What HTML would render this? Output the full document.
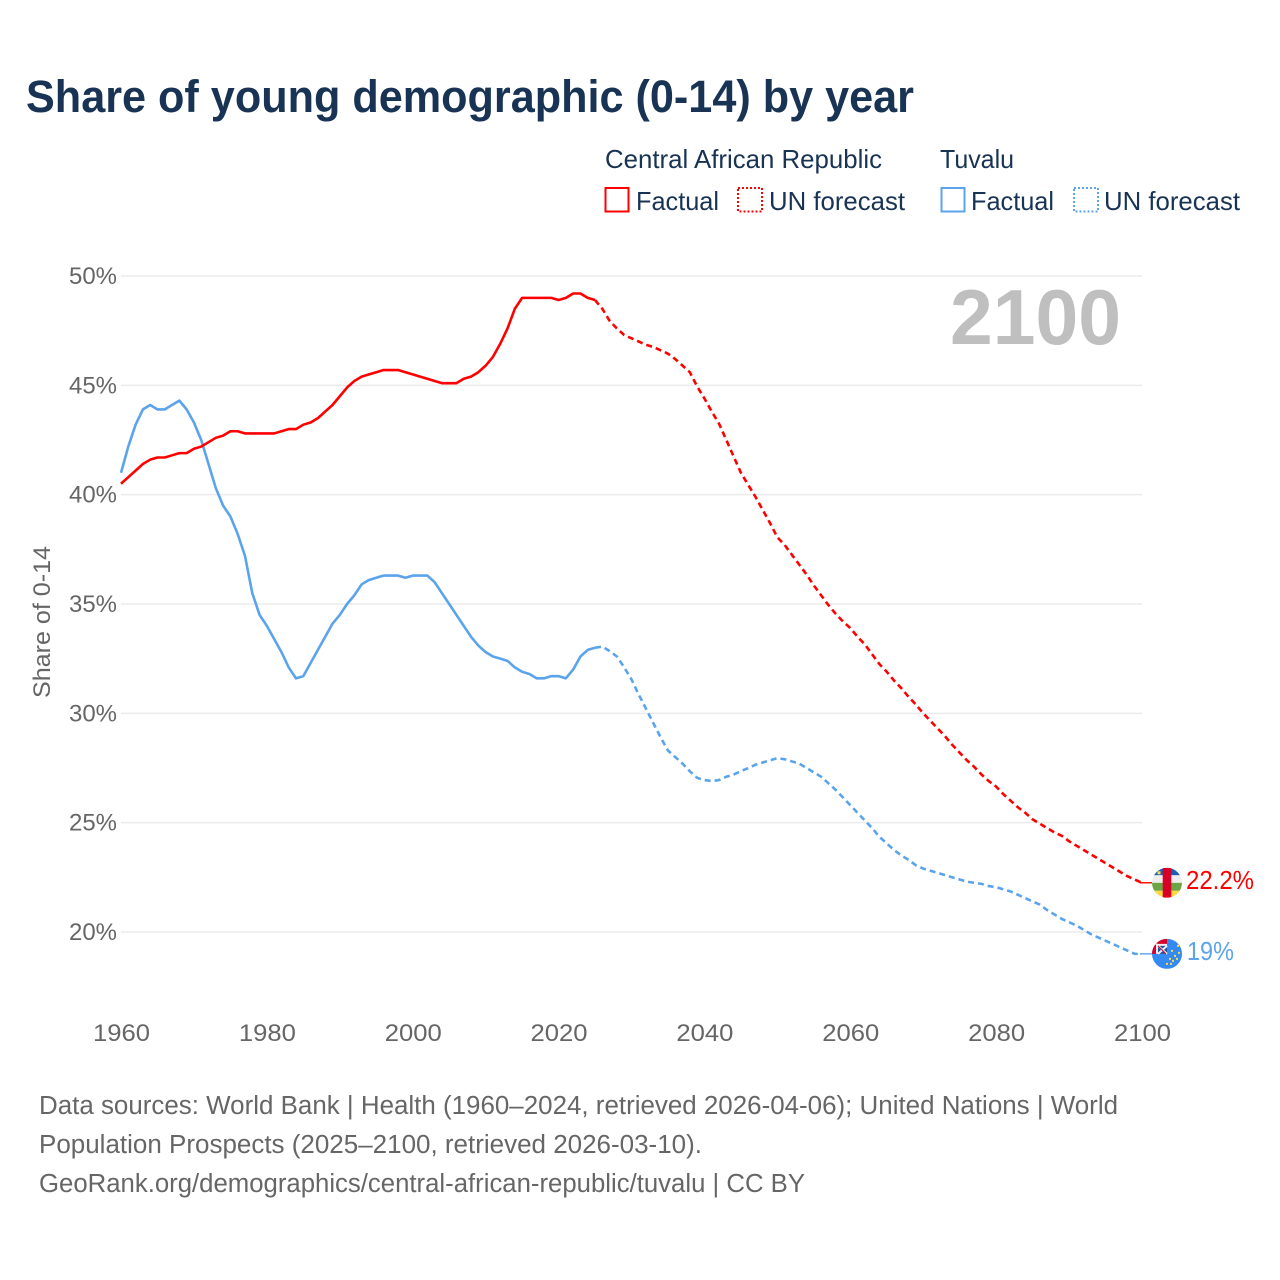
<!DOCTYPE html>
<html lang="en">
<head>
<meta charset="utf-8">
<title>Share of young demographic (0-14) by year</title>
<style>
html,body{margin:0;padding:0;background:#fff;width:1280px;height:1280px;overflow:hidden}
svg{display:block;font-family:"Liberation Sans",sans-serif}
</style>
</head>
<body>
<svg id="chart" xmlns="http://www.w3.org/2000/svg" width="1280" height="1280" viewBox="0 0 1280 1280">
  <defs>
    <clipPath id="clip-car"><circle cx="0" cy="0" r="15"/></clipPath>
    <clipPath id="clip-tuv"><circle cx="0" cy="0" r="15"/></clipPath>
  </defs>
  <rect width="1280" height="1280" fill="#fff"/>
  <text x="26" y="112" font-size="45" font-weight="700" fill="#183354" textLength="888" lengthAdjust="spacingAndGlyphs">Share of young demographic (0-14) by year</text>

  <g font-size="26" fill="#183354">
    <text x="605" y="168" textLength="277" lengthAdjust="spacingAndGlyphs">Central African Republic</text>
    <text x="940" y="168" textLength="74" lengthAdjust="spacingAndGlyphs">Tuvalu</text>
    <rect x="605.5" y="188" width="23" height="23.5" fill="none" stroke="#ff0000" stroke-width="2"/>
    <text x="636" y="210" textLength="83" lengthAdjust="spacingAndGlyphs">Factual</text>
    <rect x="738" y="188" width="24" height="23.5" fill="none" stroke="#ff0000" stroke-width="2" stroke-dasharray="2 2"/>
    <text x="769" y="210" textLength="136" lengthAdjust="spacingAndGlyphs">UN forecast</text>
    <rect x="941.5" y="188" width="23" height="23.5" fill="none" stroke="#5ba4ec" stroke-width="2"/>
    <text x="971" y="210" textLength="83" lengthAdjust="spacingAndGlyphs">Factual</text>
    <rect x="1074" y="188" width="24" height="23.5" fill="none" stroke="#5ba4ec" stroke-width="2" stroke-dasharray="2 2"/>
    <text x="1104" y="210" textLength="136" lengthAdjust="spacingAndGlyphs">UN forecast</text>
  </g>

  <g id="grid"></g>
  <g id="yticks"></g>
  <g id="xticks"></g>

  <text x="950" y="344" font-size="78" font-weight="700" fill="#bfbfbf" textLength="171" lengthAdjust="spacingAndGlyphs">2100</text>
  <text transform="translate(50,698) rotate(-90)" font-size="24" fill="#666" textLength="152" lengthAdjust="spacingAndGlyphs">Share of 0-14</text>

  <g id="series"></g>

  <g id="flag-car" clip-path="url(#clip-car)">
    <rect x="-15" y="-15" width="30" height="7.5" fill="#1a5fb4"/>
    <rect x="-15" y="-7.5" width="30" height="7.5" fill="#eeeeee"/>
    <rect x="-15" y="0" width="30" height="8" fill="#6da544"/>
    <rect x="-15" y="8" width="30" height="7" fill="#ffda44"/>
    <rect x="-4.3" y="-15" width="8.6" height="30" fill="#d80027"/>
    <rect x="-9.5" y="-11.5" width="3" height="3" fill="#ffda44"/>
  </g>
  <g id="flag-tuv" clip-path="url(#clip-tuv)">
    <rect x="-15" y="-15" width="30" height="30" fill="#338af3"/>
    <rect x="-15" y="-15" width="15" height="15" fill="#d80027"/>
    <rect x="-11" y="-10" width="11" height="10" fill="#eeeeee"/>
    <rect x="-9" y="-8" width="9" height="8" fill="#1a4fa0"/>
    <path d="M-11 -10L0 0M-9 0L0 -8" stroke="#eee" stroke-width="2"/>
    <path d="M-9 -8L-1 0" stroke="#d80027" stroke-width="1"/>
    <g fill="#ffda44">
      <rect x="10" y="-9" width="2" height="2"/><rect x="4" y="-4" width="2" height="2"/>
      <rect x="11" y="-2" width="2" height="2"/><rect x="7" y="1" width="2" height="2"/>
      <rect x="2" y="4" width="2" height="2"/><rect x="9" y="4" width="2" height="2"/>
      <rect x="5" y="6" width="2" height="2"/><rect x="-1" y="9" width="2" height="2"/>
      <rect x="3" y="9" width="2" height="2"/>
    </g>
  </g>
  <text id="label-car" x="1186" y="889" font-size="26" fill="#ff0000" textLength="68" lengthAdjust="spacingAndGlyphs">22.2%</text>
  <text id="label-tuv" x="1187" y="959" font-size="26" fill="#5ba4ec" textLength="47" lengthAdjust="spacingAndGlyphs">19%</text>

  <g font-size="25.5" fill="#666">
    <text x="39" y="1114" textLength="1079" lengthAdjust="spacingAndGlyphs">Data sources: World Bank | Health (1960–2024, retrieved 2026-04-06); United Nations | World</text>
    <text x="39" y="1153" textLength="663" lengthAdjust="spacingAndGlyphs">Population Prospects (2025–2100, retrieved 2026-03-10).</text>
    <text x="39" y="1192" textLength="766" lengthAdjust="spacingAndGlyphs">GeoRank.org/demographics/central-african-republic/tuvalu | CC BY</text>
  </g>
</svg>
<script>
const xTicks = [1960, 1980, 2000, 2020, 2040, 2060, 2080, 2100];
const yTicks = [20, 25, 30, 35, 40, 45, 50];
const firstFactualYear = 1960;
const firstForecastYear = 2025;
const carFactual = [40.5,40.8,41.1,41.4,41.6,41.7,41.7,41.8,41.9,41.9,42.1,42.2,42.4,42.6,42.7,42.9,42.9,42.8,42.8,42.8,42.8,42.8,42.9,43.0,43.0,43.2,43.3,43.5,43.8,44.1,44.5,44.9,45.2,45.4,45.5,45.6,45.7,45.7,45.7,45.6,45.5,45.4,45.3,45.2,45.1,45.1,45.1,45.3,45.4,45.6,45.9,46.3,46.9,47.6,48.5,49.0,49.0,49.0,49.0,49.0,48.9,49.0,49.2,49.2,49.0,48.9];
const carForecast = [48.9,48.5,47.95,47.6,47.3,47.15,47.0,46.85,46.75,46.6,46.45,46.2,45.9,45.6,44.95,44.4,43.8,43.25,42.5,41.75,41.0,40.45,39.9,39.3,38.7,38.05,37.7,37.25,36.8,36.35,35.85,35.4,34.95,34.55,34.2,33.9,33.5,33.15,32.7,32.25,31.9,31.5,31.15,30.75,30.4,30.0,29.65,29.3,28.95,28.55,28.2,27.85,27.55,27.2,26.9,26.65,26.3,26.0,25.7,25.45,25.15,24.95,24.75,24.55,24.4,24.15,23.95,23.75,23.55,23.35,23.15,22.95,22.75,22.55,22.4,22.25];
const tuvaluFactual = [41.0,42.2,43.2,43.9,44.1,43.9,43.9,44.1,44.3,43.9,43.3,42.5,41.4,40.3,39.5,39.0,38.2,37.2,35.5,34.5,34.0,33.4,32.8,32.1,31.6,31.7,32.3,32.9,33.5,34.1,34.5,35.0,35.4,35.9,36.1,36.2,36.3,36.3,36.3,36.2,36.3,36.3,36.3,36.0,35.5,35.0,34.5,34.0,33.5,33.1,32.8,32.6,32.5,32.4,32.1,31.9,31.8,31.6,31.6,31.7,31.7,31.6,32.0,32.6,32.9,33.0];
const tuvaluForecast = [33.0,33.05,32.85,32.6,32.1,31.55,30.85,30.2,29.55,28.9,28.3,28.0,27.7,27.35,27.05,26.95,26.9,26.95,27.1,27.2,27.35,27.5,27.65,27.75,27.85,27.95,27.9,27.8,27.7,27.5,27.3,27.1,26.8,26.5,26.15,25.8,25.45,25.1,24.75,24.35,24.05,23.75,23.5,23.3,23.05,22.9,22.8,22.7,22.6,22.5,22.4,22.3,22.25,22.2,22.1,22.05,21.95,21.85,21.7,21.55,21.4,21.25,21.0,20.8,20.6,20.45,20.3,20.1,19.9,19.75,19.6,19.45,19.3,19.15,19.0,19.0];

const NS = 'http://www.w3.org/2000/svg';
function xScale(year) { return 121 + (year - 1960) * (1142 - 121) / 140; }
function yScale(value) { return 932 + (value - 20) * (276 - 932) / 30; }
function linePath(values, startYear) {
  return values.map(function (v, i) {
    return (i ? 'L' : 'M') + xScale(startYear + i).toFixed(2) + ' ' + yScale(v).toFixed(2);
  }).join('');
}
const grid = document.getElementById('grid');
const yGroup = document.getElementById('yticks');
const xGroup = document.getElementById('xticks');
const seriesGroup = document.getElementById('series');

yTicks.forEach(function (t) {
  const line = document.createElementNS(NS, 'line');
  
  
  line.setAttribute('x1', xScale(1960));
  line.setAttribute('x2', xScale(2100));
  line.setAttribute('y1', yScale(t));
  line.setAttribute('y2', yScale(t));
  line.setAttribute('stroke', '#ebebeb');
  line.setAttribute('stroke-width', '1.5');
  grid.appendChild(line);

  const label = document.createElementNS(NS, 'text');
  
  
  label.setAttribute('x', 69);
  label.setAttribute('y', yScale(t) + 8);
  label.setAttribute('font-size', '24');
  label.setAttribute('fill', '#666');
  label.setAttribute('textLength', '48');
  label.setAttribute('lengthAdjust', 'spacingAndGlyphs');
  label.textContent = t + '%';
  yGroup.appendChild(label);
});

xTicks.forEach(function (t) {
  const label = document.createElementNS(NS, 'text');
  
  
  label.setAttribute('x', xScale(t) - 28);
  label.setAttribute('y', 1041);
  label.setAttribute('font-size', '24');
  label.setAttribute('fill', '#666');
  label.setAttribute('textLength', '57');
  label.setAttribute('lengthAdjust', 'spacingAndGlyphs');
  label.textContent = t;
  xGroup.appendChild(label);
});

function addLine(values, startYear, color, dashed, name) {
  const p = document.createElementNS(NS, 'path');
  
  
  p.setAttribute('d', linePath(values, startYear));
  p.setAttribute('fill', 'none');
  p.setAttribute('stroke', color);
  p.setAttribute('stroke-width', '2.6');
  p.setAttribute('stroke-linejoin', 'round');
  if (dashed) p.setAttribute('stroke-dasharray', '6 4');
  seriesGroup.appendChild(p);
}
function addConnector(endY, color, name) {
  const c = document.createElementNS(NS, 'line');
  
  
  c.setAttribute('x1', xScale(2100) - 2);
  c.setAttribute('x2', xScale(2100) + 10);
  c.setAttribute('y1', endY);
  c.setAttribute('y2', endY);
  c.setAttribute('stroke', color);
  c.setAttribute('stroke-width', '1.4');
  seriesGroup.appendChild(c);
}
addLine(tuvaluFactual, firstFactualYear, '#5ba4ec', false, 'tuvalu-factual-line');
addLine(tuvaluForecast, firstForecastYear, '#5ba4ec', true, 'tuvalu-forecast-line');
addLine(carFactual, firstFactualYear, '#ff0000', false, 'car-factual-line');
addLine(carForecast, firstForecastYear, '#ff0000', true, 'car-forecast-line');

const carEnd = yScale(carForecast[carForecast.length - 1]);
const tuvEnd = yScale(tuvaluForecast[tuvaluForecast.length - 1]);
addConnector(carEnd, '#ff0000', 'car-flag-connector');
addConnector(tuvEnd, '#5ba4ec', 'tuvalu-flag-connector');
document.getElementById('flag-car').setAttribute('transform', 'translate(1167,' + carEnd + ')');
document.getElementById('flag-tuv').setAttribute('transform', 'translate(1167,' + tuvEnd + ')');
document.getElementById('label-car').setAttribute('y', carEnd + 6);
document.getElementById('label-tuv').setAttribute('y', tuvEnd + 6);
</script>
</body>
</html>
